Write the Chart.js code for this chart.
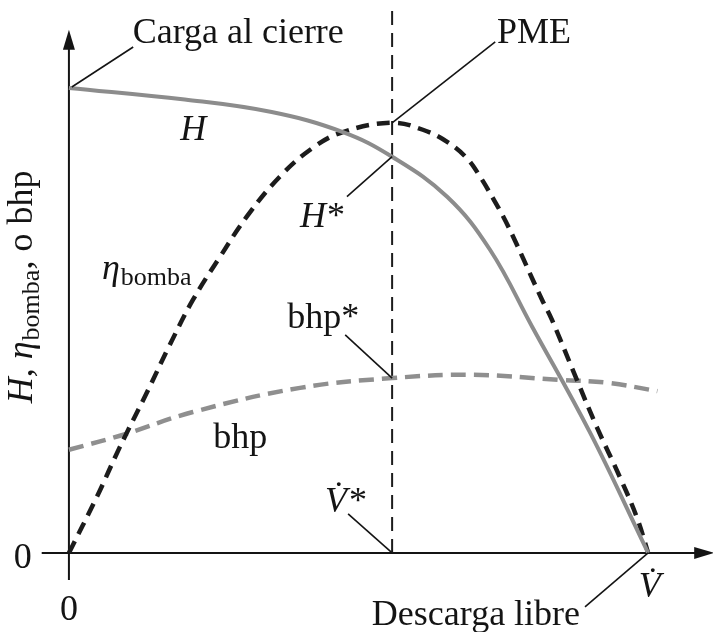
<!DOCTYPE html>
<html>
<head>
<meta charset="utf-8">
<script src="https://cdn.jsdelivr.net/npm/chart.js@4.4.1/dist/chart.umd.min.js"></script>
<style>
  html, body { margin: 0; padding: 0; background: #fff; }
  #wrap { width: 713px; height: 632px; }
</style>
</head>
<body>
<div id="wrap"><canvas id="curvas"></canvas></div>
<script>
// caudal: 0 = valvula cerrada, 10 = descarga libre
var caudalH   = [0, 2, 3.5, 4.73, 5.58, 6.53, 7.27, 8.0, 9.0, 10.0];
var carga     = [10.0, 9.75, 9.48, 9.05, 8.52, 7.66, 6.52, 4.86, 2.58, 0];

var caudalEta = [0, 0.48, 0.88, 1.35, 1.74, 2.14, 2.61, 3.07, 3.64, 4.21, 4.73, 5.58, 6.11, 6.53, 6.87, 7.10, 7.32, 7.50, 7.67, 7.84, 8.01, 8.17, 8.34, 8.77, 9.12, 9.52, 9.81, 10.0];
var eficiencia = [0, 1.20, 2.28, 3.46, 4.47, 5.44, 6.37, 7.23, 8.09, 8.71, 9.05, 9.25, 9.10, 8.84, 8.49, 8.09, 7.63, 7.23, 6.80, 6.34, 5.87, 5.44, 5.01, 3.72, 2.69, 1.61, 0.75, 0];

var caudalBhp = [0, 0.88, 2.14, 3.99, 5.58, 6.98, 8.48, 9.29, 10.16];
var potencia  = [2.22, 2.52, 3.03, 3.55, 3.76, 3.83, 3.72, 3.66, 3.48];

var caudalPME = 5.58;     // punto de mejor eficiencia
var caudalMax = 10.0;     // descarga libre
var topeGuia = 11.68;     // alto de la linea vertical en V*

var serif = '"Liberation Serif", "Times New Roman", serif';
var tinta = '#141414';

function puntos(xs, ys) {
    return xs.map(function (x, i) { return { x: x, y: ys[i] }; });
}

var cargaPME = carga[caudalH.indexOf(caudalPME)];
var etaPME = Math.max.apply(null, eficiencia);
var bhpPME = potencia[caudalBhp.indexOf(caudalPME)];

// dibuja varios trozos de texto seguidos (cursiva, subindice...)
function texto(ctx, trozos, x, y, align) {
    var ancho = 0;
    trozos.forEach(function (t) {
        ctx.font = t.f;
        t.w = ctx.measureText(t.t).width;
        ancho += t.w + (t.sp || 0);
    });
    var cx = x;
    if (align === 'center') cx = x - ancho / 2;
    if (align === 'right') cx = x - ancho;
    ctx.textBaseline = 'alphabetic';
    ctx.textAlign = 'left';
    trozos.forEach(function (t) {
        ctx.font = t.f;
        ctx.fillText(t.t, cx, y + (t.dy || 0));
        cx += t.w + (t.sp || 0);
    });
}

function f(px, estilo) { return (estilo ? estilo + ' ' : '') + px + 'px ' + serif; }

var rotulos = {
    id: 'rotulos',
    beforeDatasetsDraw: function (chart) {
        var ctx = chart.ctx, sx = chart.scales.x, sy = chart.scales.y;
        var x0 = sx.getPixelForValue(0), y0 = sy.getPixelForValue(0);
        ctx.save();
        ctx.strokeStyle = tinta;
        ctx.fillStyle = tinta;
        ctx.lineWidth = 2;
        // eje vertical
        var yTop = sy.getPixelForValue(11.25);
        ctx.beginPath();
        ctx.moveTo(x0, sy.getPixelForValue(-0.58));
        ctx.lineTo(x0, yTop + 14);
        ctx.stroke();
        ctx.beginPath();
        ctx.moveTo(x0, yTop);
        ctx.lineTo(x0 - 6, yTop + 20);
        ctx.lineTo(x0 + 6, yTop + 20);
        ctx.closePath();
        ctx.fill();
        // eje horizontal
        var xEnd = sx.getPixelForValue(11.14);
        ctx.beginPath();
        ctx.moveTo(sx.getPixelForValue(-0.47), y0);
        ctx.lineTo(xEnd - 14, y0);
        ctx.stroke();
        ctx.beginPath();
        ctx.moveTo(xEnd, y0);
        ctx.lineTo(xEnd - 20, y0 - 6);
        ctx.lineTo(xEnd - 20, y0 + 6);
        ctx.closePath();
        ctx.fill();
        ctx.restore();
    },
    afterDatasetsDraw: function (chart) {
        var ctx = chart.ctx, sx = chart.scales.x, sy = chart.scales.y;
        function P(x, y) { return [sx.getPixelForValue(x), sy.getPixelForValue(y)]; }
        function linea(a, b, c, d) {
            var p = P(a, b), q = P(c, d);
            ctx.beginPath();
            ctx.moveTo(p[0], p[1]);
            ctx.lineTo(q[0], q[1]);
            ctx.stroke();
        }
        ctx.save();
        ctx.strokeStyle = tinta;
        ctx.fillStyle = tinta;
        ctx.lineWidth = 1.6;

        // lineas de referencia
        linea(0.05, 10.02, 1.11, 10.88);
        linea(caudalPME, etaPME, 7.36, 10.99);
        linea(4.80, 7.66, caudalPME, cargaPME);
        linea(4.77, 4.69, caudalPME, bhpPME);
        linea(4.82, 0.84, caudalPME, 0);
        linea(8.91, -1.16, caudalMax, 0);

        var p;
        p = P(1.10, 10.97); texto(ctx, [{ t: 'Carga al cierre', f: f(36) }], p[0], p[1], 'left');
        p = P(7.39, 10.97); texto(ctx, [{ t: 'PME', f: f(36) }], p[0], p[1], 'left');
        p = P(1.92, 8.88);  texto(ctx, [{ t: 'H', f: f(36, 'italic') }], p[0], p[1], 'left');
        p = P(3.99, 7.01);  texto(ctx, [{ t: 'H', f: f(36, 'italic'), sp: 1 }, { t: '*', f: f(36), dy: 0 }], p[0], p[1], 'left');
        p = P(0.57, 5.90);  texto(ctx, [{ t: 'η', f: f(36, 'italic'), sp: 1 }, { t: 'bomba', f: f(26), dy: 6 }], p[0], p[1], 'left');
        p = P(3.77, 4.84);  texto(ctx, [{ t: 'bhp*', f: f(36) }], p[0], p[1], 'left');
        p = P(2.49, 2.26);  texto(ctx, [{ t: 'bhp', f: f(36) }], p[0], p[1], 'left');
        p = P(4.42, 0.88);  texto(ctx, [{ t: 'V\u0307', f: f(36, 'italic'), sp: 2 }, { t: '*', f: f(36) }], p[0], p[1], 'left');
        p = P(10.03, -0.95); texto(ctx, [{ t: 'V\u0307', f: f(36, 'italic') }], p[0], p[1], 'center');
        p = P(5.23, -1.55); texto(ctx, [{ t: 'Descarga libre', f: f(36) }], p[0], p[1], 'left');
        p = P(-0.64, -0.32); texto(ctx, [{ t: '0', f: f(36) }], p[0], p[1], 'right');
        p = P(0, -1.44);    texto(ctx, [{ t: '0', f: f(36) }], p[0], p[1], 'center');

        // titulo del eje vertical
        p = P(-0.64, 5.72);
        ctx.translate(p[0], p[1]);
        ctx.rotate(-Math.PI / 2);
        texto(ctx, [
            { t: 'H', f: f(36, 'italic') },
            { t: ', ', f: f(36) },
            { t: 'η', f: f(36, 'italic'), sp: 1 },
            { t: 'bomba', f: f(26), dy: 7 },
            { t: ', o bhp', f: f(36) }
        ], 0, 0, 'center');
        ctx.restore();
    }
};

new Chart(document.getElementById('curvas'), {
    type: 'scatter',
    data: {
        datasets: [{
            label: 'H',
            data: puntos(caudalH, carga),
            showLine: true,
            borderColor: '#8c8c8c',
            borderWidth: 4,
            pointRadius: 0,
            tension: 0.4
        }, {
            label: 'η bomba',
            data: puntos(caudalEta, eficiencia),
            showLine: true,
            borderColor: '#1c1c1c',
            borderWidth: 4.5,
            borderDash: [13, 8],
            pointRadius: 0,
            tension: 0.4
        }, {
            label: 'bhp',
            data: puntos(caudalBhp, potencia),
            showLine: true,
            borderColor: '#8f8f8f',
            borderWidth: 4.5,
            borderDash: [15, 8],
            pointRadius: 0,
            tension: 0.4
        }, {
            label: 'V*',
            data: [{ x: caudalPME, y: 0 }, { x: caudalPME, y: topeGuia }],
            showLine: true,
            borderColor: '#1c1c1c',
            borderWidth: 2,
            borderDash: [14, 8],
            pointRadius: 0
        }]
    },
    options: {
        responsive: true,
        maintainAspectRatio: false,
        animation: false,
        layout: { padding: 0 },
        scales: {
            x: { type: 'linear', display: false, min: -1.19, max: 11.12 },
            y: { type: 'linear', display: false, min: -1.70, max: 11.89 }
        },
        plugins: {
            legend: { display: false },
            tooltip: { enabled: false }
        }
    },
    plugins: [rotulos]
});
</script>
</body>
</html>
